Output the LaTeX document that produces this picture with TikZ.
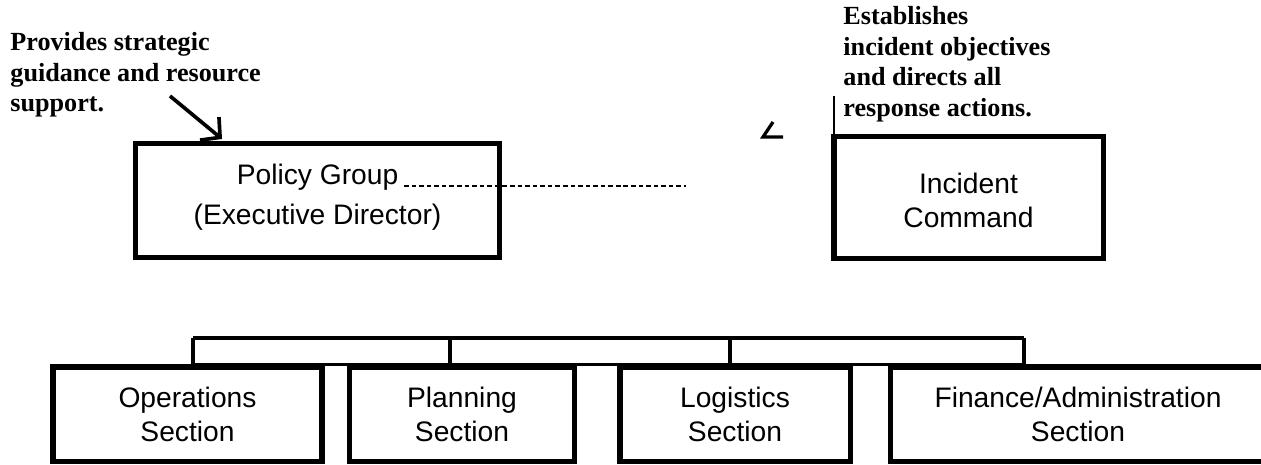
\documentclass[tikz,border=0pt]{standalone}
\usepackage{fontspec}
\setmainfont{Liberation Serif}
\setsansfont{Liberation Sans}
\usetikzlibrary{arrows.meta}
\tikzset{>={Straight Barb[length=6pt,width=13pt]}}
\tikzset{
	box/.style={draw,line width=2.2pt,align=center,font=\sffamily\fontsize{12.3}{15}\selectfont},
	sect/.style={box,minimum height=41.4pt},
	note/.style={align=left,inner sep=0pt,font=\bfseries\fontsize{11.4}{13.3}\selectfont},
	bus/.style={line width=1.7pt}
}

\begin{document}
\begin{tikzpicture}[x=0.436pt,y=-0.436pt]
	\clip (0,0) rectangle (1261,465);
	% notes
	\node[note,anchor=north west] (provides) at (10,32) {Provides strategic\\guidance and resource\\support.};
	\node[note,anchor=north west] (establishes) at (843,6) {Establishes\\incident objectives\\and directs all\\response actions.};
	% top boxes
	\node[box,minimum width=159.1pt,minimum height=49.3pt,text depth=5.2pt,font=\sffamily\fontsize{12.3}{17.4}\selectfont] (policy) at (317.5,200.5) {Policy Group\\(Executive Director)};
	\node[box,minimum width=117.3pt,minimum height=52.8pt,text height=26.5pt] (incident) at (968.5,197.5) {Incident\\Command};
	\coordinate (arrtail) at (170,96);
	\coordinate (arrtip) at (222,139);
	\draw[->,line width=1.6pt] (arrtail)--(arrtip);
	\coordinate (dashL) at (404,186);
	\coordinate (dashR) at (686,186);
	\draw[line width=0.7pt,dash pattern=on 2pt off 1.3pt] (dashL)--(dashR);
	\draw[line width=1.4pt] (773,122)--(763,137)--(783,137);
	\draw[line width=1.3pt] (834,96)--(834,135);
	% sections
	\node[sect,minimum width=117.3pt] (ops) at (187.5,414.5) {Operations\\Section};
	\node[sect,minimum width=97.7pt] (plan) at (462,414.5) {Planning\\Section};
	\node[sect,minimum width=100.3pt] (logi) at (735,414.5) {Logistics\\Section};
	\node[sect,minimum width=163.9pt] (fin) at (1078,414.5) {Finance/Administration\\Section};
	\coordinate (b1) at (193,338);
	\coordinate (b2) at (450,338);
	\coordinate (b3) at (730,338);
	\coordinate (b4) at (1024,338);
	\draw[bus] (b1)--(b4);
	\foreach \b/\s in {b1/ops,b2/plan,b3/logi,b4/fin}
		\draw[bus] (\b)--(\b |- \s.north);
	\draw[bus] (b1 |- ops.north)--(b4 |- fin.north);
\end{tikzpicture}
\end{document}
